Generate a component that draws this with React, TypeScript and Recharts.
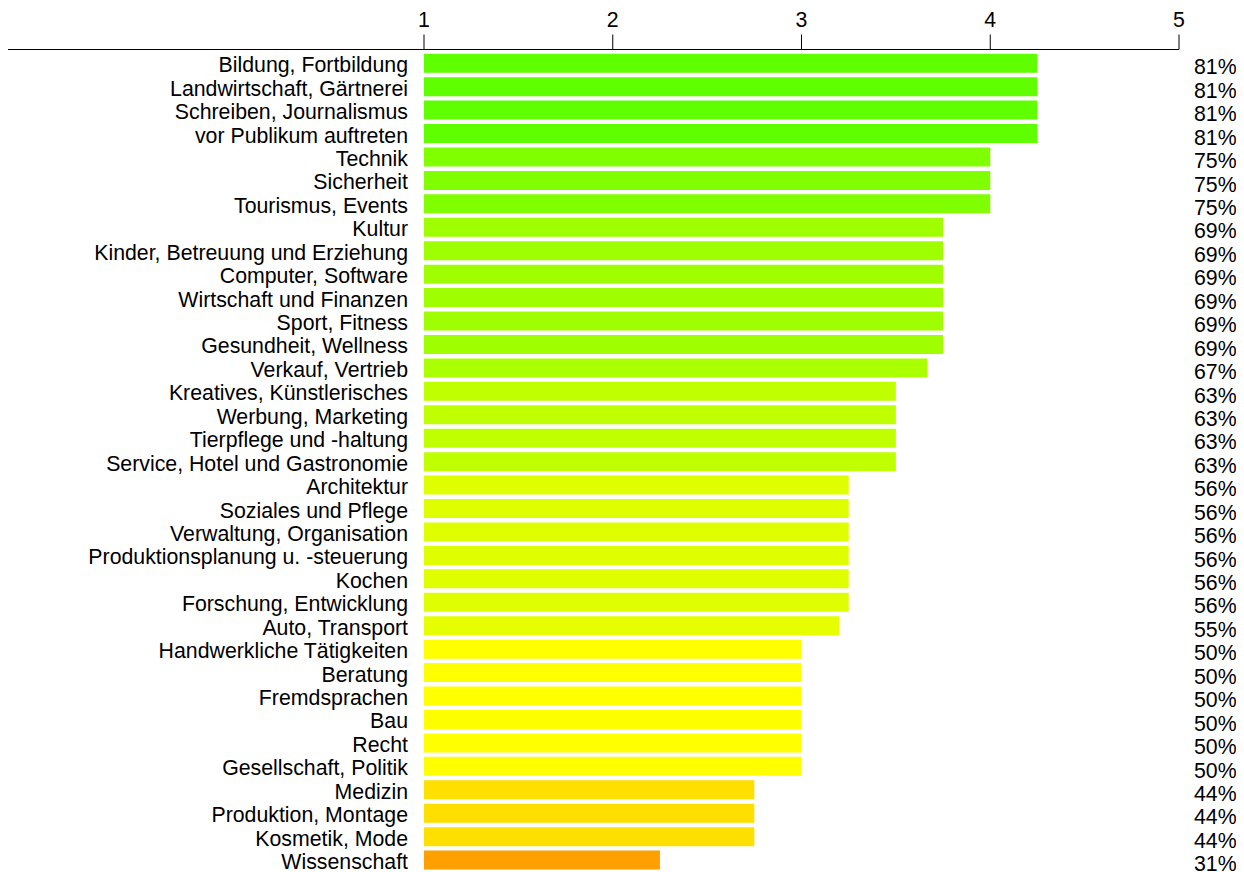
import React from "react";
import { BarChart, Bar, XAxis, YAxis, Cell, LabelList } from "recharts";

const categories: string[] = [
  "Bildung, Fortbildung",
  "Landwirtschaft, Gärtnerei",
  "Schreiben, Journalismus",
  "vor Publikum auftreten",
  "Technik",
  "Sicherheit",
  "Tourismus, Events",
  "Kultur",
  "Kinder, Betreuung und Erziehung",
  "Computer, Software",
  "Wirtschaft und Finanzen",
  "Sport, Fitness",
  "Gesundheit, Wellness",
  "Verkauf, Vertrieb",
  "Kreatives, Künstlerisches",
  "Werbung, Marketing",
  "Tierpflege und -haltung",
  "Service, Hotel und Gastronomie",
  "Architektur",
  "Soziales und Pflege",
  "Verwaltung, Organisation",
  "Produktionsplanung u. -steuerung",
  "Kochen",
  "Forschung, Entwicklung",
  "Auto, Transport",
  "Handwerkliche Tätigkeiten",
  "Beratung",
  "Fremdsprachen",
  "Bau",
  "Recht",
  "Gesellschaft, Politik",
  "Medizin",
  "Produktion, Montage",
  "Kosmetik, Mode",
  "Wissenschaft",
];

const scores: number[] = [
  4.25, 4.25, 4.25, 4.25,
  4.0, 4.0, 4.0,
  3.75, 3.75, 3.75, 3.75, 3.75, 3.75,
  3.667,
  3.5, 3.5, 3.5, 3.5,
  3.25, 3.25, 3.25, 3.25, 3.25, 3.25,
  3.2,
  3.0, 3.0, 3.0, 3.0, 3.0, 3.0,
  2.75, 2.75, 2.75,
  2.25,
];

const percentLabels: string[] = [
  "81%", "81%", "81%", "81%",
  "75%", "75%", "75%",
  "69%", "69%", "69%", "69%", "69%", "69%",
  "67%",
  "63%", "63%", "63%", "63%",
  "56%", "56%", "56%", "56%", "56%", "56%",
  "55%",
  "50%", "50%", "50%", "50%", "50%", "50%",
  "44%", "44%", "44%",
  "31%",
];

const xTicks: number[] = [1, 2, 3, 4, 5];
const scaleMin = 1;
const scaleMax = 5;

const data = categories.map((name, i) => ({
  name,
  range: [scaleMin, scores[i]],
  score: scores[i],
  pct: percentLabels[i],
}));

const pctByName: Record<string, string> = {};
data.forEach((d) => {
  pctByName[d.name] = d.pct;
});

const colorFor = (v: number) => `hsl(${60 + (v - 3) * 30}, 100%, 50%)`;

const FONT = "'Liberation Sans', Arial, sans-serif";
const FS = 21.3;

const LeftLabel = (props: any) => {
  const { x, y, height, value } = props;
  return (
    <text
      x={Number(x) - 16}
      y={Number(y) + Number(height) / 2 + 9}
      textAnchor="end"
      fontSize={FS}
      fontFamily={FONT}
      fill="#000"
    >
      {value}
    </text>
  );
};

const RightTick = (props: any) => {
  const { x, y, payload } = props;
  return (
    <text
      x={x}
      y={Number(y) + 11}
      textAnchor="start"
      fontSize={FS}
      fontFamily={FONT}
      fill="#000"
    >
      {pctByName[payload.value]}
    </text>
  );
};

export default function App() {
  return (
    <div style={{ fontFamily: FONT }}>
      <BarChart
        width={1231}
        height={872}
        data={data}
        layout="vertical"
        margin={{ top: 0, right: 0, bottom: 8, left: 0 }}
      >
        <XAxis
          type="number"
          orientation="top"
          domain={[-1.204, scaleMax]}
          ticks={xTicks}
          allowDataOverflow
          height={41.5}
          tickSize={15}
          tickMargin={8}
          axisLine={{ stroke: "#000", strokeWidth: 1 }}
          tickLine={{ stroke: "#000", strokeWidth: 1 }}
          tick={{ fill: "#000", fontSize: FS, fontFamily: FONT }}
        />
        <YAxis
          yAxisId="left"
          type="category"
          dataKey="name"
          hide
          padding={{ top: 2.2, bottom: 0 }}
        />
        <YAxis
          yAxisId="right"
          type="category"
          dataKey="name"
          orientation="right"
          width={60}
          axisLine={false}
          tickLine={false}
          tickSize={6}
          tickMargin={9}
          interval={0}
          padding={{ top: 2.2, bottom: 0 }}
          tick={<RightTick />}
        />
        <Bar
          yAxisId="left"
          dataKey="range"
          barSize={19}
          isAnimationActive={false}
        >
          {data.map((d, i) => (
            <Cell key={i} fill={colorFor(d.score)} />
          ))}
          <LabelList dataKey="name" content={<LeftLabel />} />
        </Bar>
      </BarChart>
    </div>
  );
}
